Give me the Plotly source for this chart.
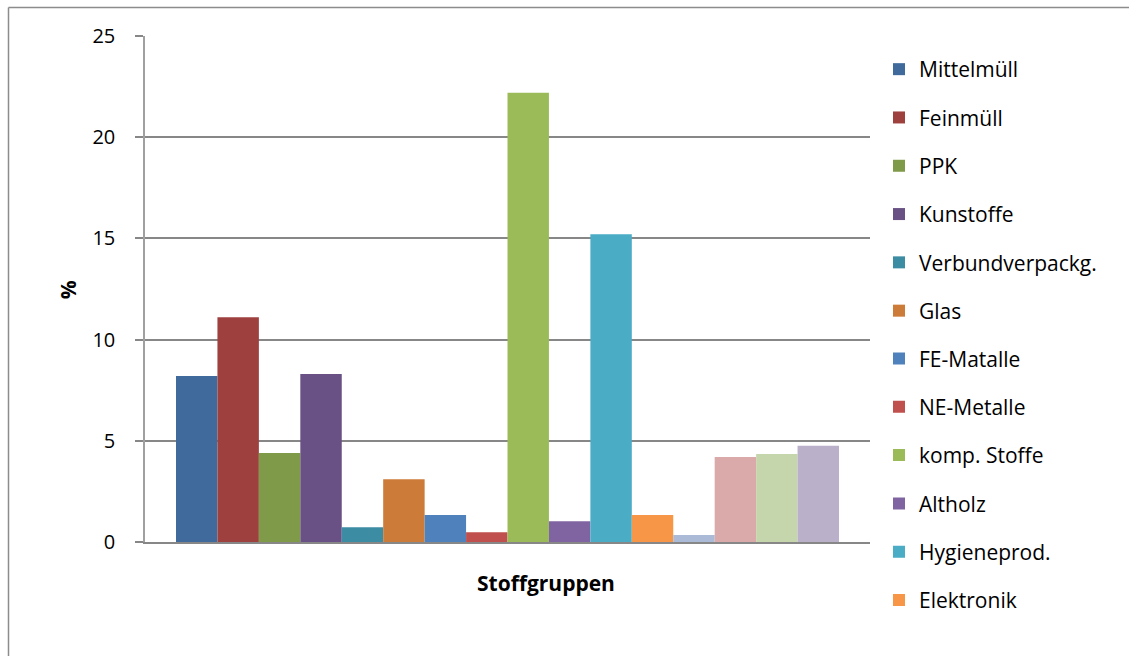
import plotly.graph_objects as go

categories = ["Stoffgruppen"]
series_names = [
    "Mittelmüll", "Feinmüll", "PPK", "Kunstoffe", "Verbundverpackg.", "Glas",
    "FE-Matalle", "NE-Metalle", "komp. Stoffe", "Altholz", "Hygieneprod.", "Elektronik",
    "Textilien", "Mineralien", "Problemstoffe", "Sonstiges",
]
series_values = [
    8.2, 11.1, 4.4, 8.3, 0.73, 3.1,
    1.33, 0.48, 22.2, 1.02, 15.2, 1.33,
    0.34, 4.2, 4.35, 4.75,
]
series_colors = [
    "#416A9C", "#9E413E", "#7F9A48", "#695185", "#3C8DA3", "#CC7B38",
    "#4F81BD", "#C0504D", "#9BBB59", "#8064A2", "#4BACC6", "#F79646",
    "#AABAD7", "#D9AAA9", "#C6D6AC", "#BAB0C9",
]
y_ticks = [0, 5, 10, 15, 20, 25]

FONT = "Open Sans"
GRAY = "#878787"

fig = go.Figure()
for i, (name, val, col) in enumerate(zip(series_names, series_values, series_colors)):
    fig.add_trace(go.Bar(
        x=categories, y=[val], name=name, marker=dict(color=col, line=dict(width=0)),
        legendgroup=name, showlegend=i < 12,
        legend="legend" if i < 6 else "legend2",
    ))

# plot area in pixels
L, R, T, B = 145, 870, 36, 541.7
W, H = 1129, 656
pw, ph = R - L, B - T

def px_x(x):
    return (x - L) / pw

def px_y(y):
    return (B - y) / ph

legend_common = dict(
    font=dict(family=FONT, size=21, color="#000000"),
    bgcolor="rgba(0,0,0,0)", borderwidth=0,
    traceorder="grouped", tracegroupgap=18,
    xanchor="left", yanchor="top", itemclick=False,
)

fig.update_layout(
    width=W, height=H,
    margin=dict(l=L, r=W - R, t=T, b=H - B, pad=0),
    paper_bgcolor="white", plot_bgcolor="white",
    barmode="group", bargap=62 / 725, bargroupgap=0,
    font=dict(family=FONT, size=20, color="#000000"),
    legend=dict(x=px_x(879), y=px_y(49), **legend_common),
    legend2=dict(x=px_x(879), y=px_y(48 + 6 * 48.36), **legend_common),
    xaxis=dict(
        showticklabels=False, ticks="", showgrid=False, zeroline=False,
        showline=True, linecolor=GRAY, linewidth=2,
    ),
    yaxis=dict(
        range=[0, 25], tickvals=y_ticks, ticktext=[str(t) for t in y_ticks],
        showgrid=True, gridcolor=GRAY, gridwidth=1.6, zeroline=False,
        showline=True, linecolor="#A0A0A0", linewidth=1.5,
        ticks="outside", ticklen=8, tickcolor=GRAY, tickwidth=1.5,
        ticklabelstandoff=16,
        tickfont=dict(family=FONT, size=20, color="#000000"),
    ),
    annotations=[
        dict(text="<b>Stoffgruppen</b>", xref="paper", yref="paper",
             x=px_x(545.5), y=px_y(583), xanchor="center", yanchor="middle",
             showarrow=False, font=dict(family=FONT, size=21, color="#000000")),
        dict(text="<b>%</b>", xref="paper", yref="paper",
             x=px_x(68), y=px_y(290), xanchor="center", yanchor="middle",
             textangle=-90, showarrow=False,
             font=dict(family=FONT, size=21, color="#000000")),
    ],
    shapes=[
        dict(type="line", xref="paper", yref="paper",
             x0=px_x(8.5), x1=px_x(8.5), y0=px_y(7.5), y1=px_y(700),
             line=dict(color="#8C8C8C", width=1.5)),
        dict(type="line", xref="paper", yref="paper",
             x0=px_x(8.5), x1=px_x(1200), y0=px_y(7.5), y1=px_y(7.5),
             line=dict(color="#8C8C8C", width=1.5)),
    ],
)

fig.write_html("out.html")
